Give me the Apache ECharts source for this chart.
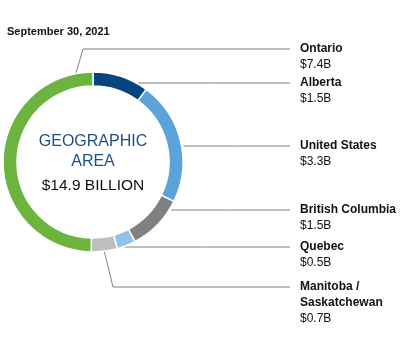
<!DOCTYPE html>
<html>
<head>
<meta charset="utf-8">
<script src="https://cdn.jsdelivr.net/npm/echarts@6/dist/echarts.min.js"></script>
<style>
html,body{margin:0;padding:0;background:#fff;}
#c{width:400px;height:337px;}
</style>
</head>
<body>
<div id="c"></div>
<script>
// ---- data ----
const categories = ['Alberta', 'United States', 'British Columbia', 'Quebec', 'Manitoba /\nSaskatchewan', 'Ontario'];
const values = [1.5, 3.3, 1.5, 0.5, 0.7, 7.4];
const totalLabel = '$14.9 BILLION';
const dateLabel = 'September 30, 2021';

// ---- style / layout ----
const colors = ['#05447e', '#5ba3d9', '#808080', '#8fc3ec', '#bdbfc1', '#6db33f'];
const CX = 93, CY = 162, R_IN = 76, R_OUT = 90;
const LABEL_X = 300, LINE_END = 290, LINE_H = 16;
const lineY = [83, 146, 210, 247, 287, 49];

const chart = echarts.init(document.getElementById('c'), null, {renderer: 'canvas'});

function ptAt(deg, r) {
  const a = deg * Math.PI / 180;
  return [CX + r * Math.sin(a), CY - r * Math.cos(a)];
}

chart.setOption({
  animation: false,
  graphic: [
    {type: 'text', left: 7, top: 26, style: {text: dateLabel, font: 'bold 11px "Liberation Sans", Arial, sans-serif', fill: '#111'}},
    {type: 'text', x: CX, y: 142, style: {text: 'GEOGRAPHIC', font: '16px "Liberation Sans", Arial, sans-serif', fill: '#1d4f85', align: 'center', verticalAlign: 'middle'}},
    {type: 'text', x: CX, y: 162, style: {text: 'AREA', font: '16px "Liberation Sans", Arial, sans-serif', fill: '#1d4f85', align: 'center', verticalAlign: 'middle'}},
    {type: 'text', x: CX, y: 186, style: {text: totalLabel, font: '15.5px "Liberation Sans", Arial, sans-serif', fill: '#111', align: 'center', verticalAlign: 'middle'}}
  ],
  series: [{
    type: 'pie',
    center: [CX, CY],
    radius: [R_IN, R_OUT],
    startAngle: 90,
    clockwise: true,
    avoidLabelOverlap: false,
    itemStyle: {borderColor: '#fff', borderWidth: 1.5},
    emphasis: {disabled: true},
    data: categories.map((c, i) => ({name: c, value: values[i], itemStyle: {color: colors[i]}})),
    label: {
      show: true,
      position: 'outside',
      formatter: p => p.name.split('\n').map(s => '{n|' + s + '}').join('\n') + '\n{v|$' + p.value.toFixed(1) + 'B}',
      rich: {
        n: {fontFamily: '"Liberation Sans", Arial, sans-serif', fontWeight: 'bold', fontSize: 12, color: '#111', lineHeight: LINE_H},
        v: {fontFamily: '"Liberation Sans", Arial, sans-serif', fontSize: 12, color: '#111', lineHeight: LINE_H}
      }
    },
    labelLine: {show: true, lineStyle: {color: '#808080', width: 1}},
    labelLayout: function (p) {
      const i = p.dataIndex;
      const y = lineY[i];
      let pts;
      if (i === 5) {
        // Ontario: leaves the ring near the top and bends up
        const s = ptAt(349, R_OUT);
        pts = [s, [83, y], [LINE_END, y]];
      } else if (i === 4) {
        const s = p.labelLinePoints ? p.labelLinePoints[0] : ptAt(172, R_OUT);
        pts = [s, [113, y], [LINE_END, y]];
      } else {
        const dy = y - CY;
        const x0 = CX + Math.sqrt(R_OUT * R_OUT - dy * dy) + 2;
        pts = [[x0, y], [(x0 + LINE_END) / 2, y], [LINE_END, y]];
      }
      return {x: LABEL_X, y: y - LINE_H / 2, align: 'left', verticalAlign: 'top', labelLinePoints: pts};
    }
  }]
});
</script>
</body>
</html>
